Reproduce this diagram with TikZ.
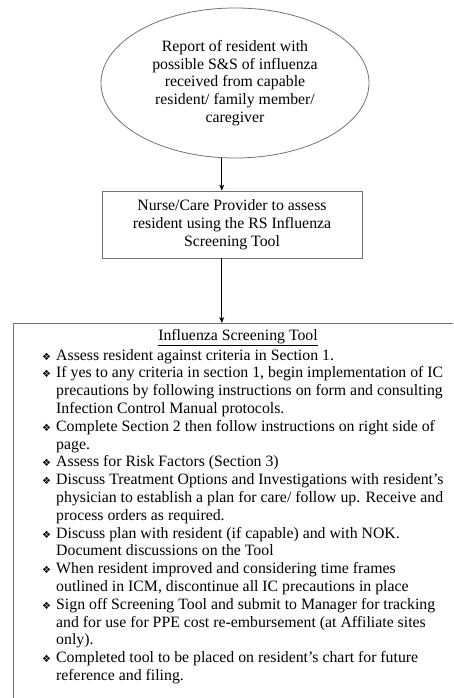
\documentclass[tikz,border=0pt]{standalone}
\usepackage{fontspec}
\setmainfont{Liberation Serif}
\newfontfamily\symfnt{DejaVu Sans}
\usetikzlibrary{shapes.geometric,arrows.meta}
\newcommand{\bul}{\makebox[15pt][l]{\hspace*{1pt}\symfnt\fontsize{10}{10}\selectfont ❖}}
\newcommand{\ind}{\hspace*{15pt}}
\tikzset{
  flowline/.style={draw=black!55, line width=0.8pt},
  flowarrow/.style={-{Stealth[length=6pt,width=5pt]}, line width=0.8pt},
}
\begin{document}
\begin{tikzpicture}[x=1pt,y=-1pt,font=\fontsize{15.8}{17.8}\selectfont]

\path[use as bounding box, clip] (0,0) rectangle (453,698);

\node[ellipse, flowline, minimum width=268pt, minimum height=150pt, align=center] (report) at (235,83)
  {Report of resident with\\possible S\&S of influenza\\received from capable\\resident/ family member/\\caregiver};

\node[rectangle, flowline, minimum width=260pt, minimum height=67pt, align=center] (assess) at (232,224.5)
  {Nurse/Care Provider to assess\\resident using the RS Influenza\\Screening Tool};

\node[rectangle, flowline, anchor=north west, minimum width=480pt, minimum height=420pt] (tool) at (12.7,323) {};
\node (title) at (238,338) {\underline{Influenza Screening Tool}};
\node[anchor=north west, align=left, inner sep=0pt] (steps) at (41,349)
  {\bul Assess resident against criteria in Section 1.\\
   \bul If yes to any criteria in section 1, begin implementation of IC\\
   \ind precautions by following instructions on form and consulting\\
   \ind Infection Control Manual protocols.\\
   \bul Complete Section 2 then follow instructions on right side of\\
   \ind page.\\
   \bul Assess for Risk Factors (Section 3)\\
   \bul Discuss Treatment Options and Investigations with resident’s\\
   \ind physician to establish a plan for care/ follow up. Receive and\\
   \ind process orders as required.\\
   \bul Discuss plan with resident (if capable) and with NOK.\\
   \ind Document discussions on the Tool\\
   \bul When resident improved and considering time frames\\
   \ind outlined in ICM, discontinue all IC precautions in place\\
   \bul Sign off Screening Tool and submit to Manager for tracking\\
   \ind and for use for PPE cost re-embursement (at Affiliate sites\\
   \ind only).\\
   \bul Completed tool to be placed on resident’s chart for future\\
   \ind reference and filing.};

\draw[flowarrow] (report.-100) -- (report.-100 |- assess.north);
\draw[flowarrow] (report.-100 |- assess.south) -- (report.-100 |- tool.north);

\end{tikzpicture}
\end{document}
